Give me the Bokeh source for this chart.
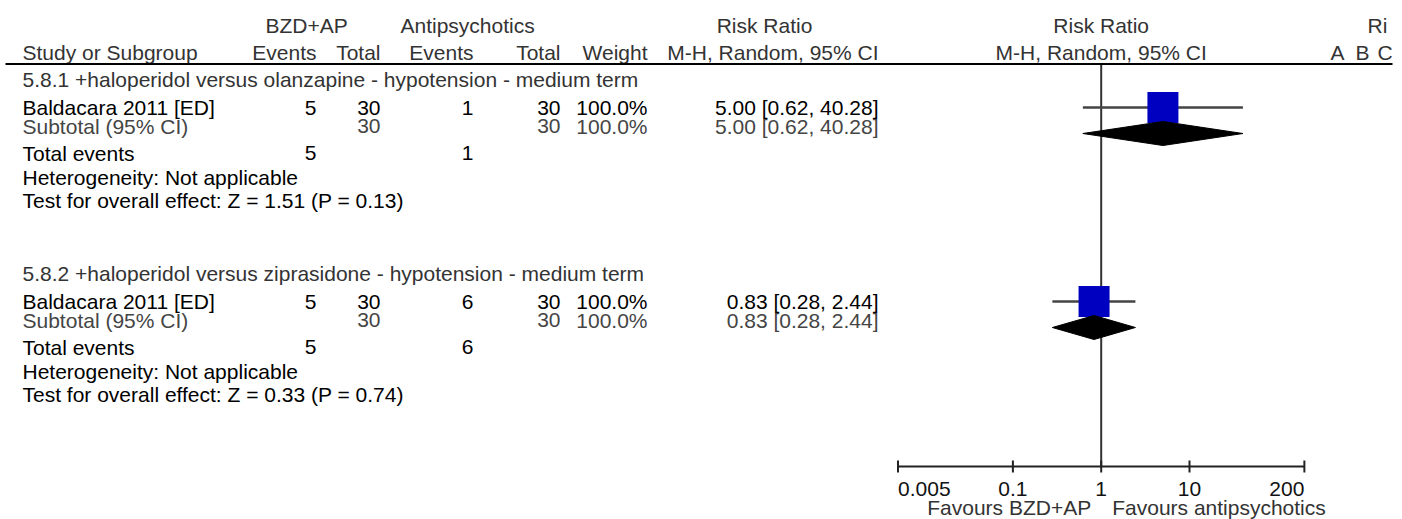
from bokeh.plotting import figure
from bokeh.models import Range1d, LogScale, ColumnDataSource
from bokeh.core.properties import value
from bokeh.embed import file_html
from bokeh.resources import INLINE

# ---------------- data ----------------
subgroup_titles = [
    "5.8.1 +haloperidol versus olanzapine - hypotension - medium term",
    "5.8.2 +haloperidol versus ziprasidone - hypotension - medium term",
]
study_names = ["Baldacara 2011 [ED]", "Baldacara 2011 [ED]"]
bzd_events = [5, 5]
bzd_total = [30, 30]
ap_events = [1, 6]
ap_total = [30, 30]
weights = [100.0, 100.0]
rr = [5.00, 0.83]
ci_lower = [0.62, 0.28]
ci_upper = [40.28, 2.44]
sub_rr = [5.00, 0.83]
sub_lower = [0.62, 0.28]
sub_upper = [40.28, 2.44]
sub_bzd_total = [30, 30]
sub_ap_total = [30, 30]
sub_weights = [100.0, 100.0]
total_bzd_events = [5, 5]
total_ap_events = [1, 6]
heterogeneity = ["Not applicable", "Not applicable"]
z_values = [1.51, 0.33]
p_values = [0.13, 0.74]
tick_values = [0.005, 0.1, 1, 10, 200]
tick_labels = ["0.005", "0.1", "1", "10", "200"]
favours_left = "Favours BZD+AP"
favours_right = "Favours antipsychotics"

# ---------------- layout ----------------
FONT = "Liberation Sans"
FS = "21px"
W, H = 1402, 519
NULL_X = 1100.7
PX_PER_DEC = 88.3

p = figure(width=W, height=H, x_range=Range1d(0, W), y_range=Range1d(H, 0),
           x_axis_location=None, y_axis_location=None, toolbar_location=None,
           output_backend="svg", min_border=0,
           outline_line_color=None, background_fill_color="white", border_fill_color="white")
p.grid.visible = False

lo = 10 ** ((0 - NULL_X) / PX_PER_DEC)
hi = 10 ** ((W - NULL_X) / PX_PER_DEC)
p.extra_x_ranges = {"log": Range1d(lo, hi)}
p.extra_x_scales = {"log": LogScale()}

HDR1, HDR2, HLINE = 25, 52, 63.5
Y_AXIS = 466
GROUP_DY = 194
ROW = dict(title=78.5, study=107, subtotal=125.5, total=152.5, het=176.5, test=200, square=107, diamond=133)

C_HEAD = "#333333"
C_SUB = "#454545"
C_BLK = "#000000"

tx, ty, tt, ta, tc = [], [], [], [], []


def add(x, y, t, a="left", c=C_BLK):
    tx.append(x); ty.append(y); tt.append(t); ta.append(a); tc.append(c)


# header rows
add(265, HDR1, "BZD+AP", "left", C_HEAD)
add(400, HDR1, "Antipsychotics", "left", C_HEAD)
add(764, HDR1, "Risk Ratio", "center", C_HEAD)
add(NULL_X, HDR1, "Risk Ratio", "center", C_HEAD)
add(1367, HDR1, "Ri", "left", C_HEAD)
add(22, HDR2, "Study or Subgroup", "left", C_HEAD)
add(316, HDR2, "Events", "right", C_HEAD)
add(380, HDR2, "Total", "right", C_HEAD)
add(473, HDR2, "Events", "right", C_HEAD)
add(560, HDR2, "Total", "right", C_HEAD)
add(647, HDR2, "Weight", "right", C_HEAD)
add(878, HDR2, "M-H, Random, 95% CI", "right", C_HEAD)
add(NULL_X, HDR2, "M-H, Random, 95% CI", "center", C_HEAD)
add(1330, HDR2, "A", "left", C_HEAD)
add(1355, HDR2, "B", "left", C_HEAD)
add(1377, HDR2, "C", "left", C_HEAD)

study_y, sub_y = [], []
for g in range(len(subgroup_titles)):
    off = g * GROUP_DY
    r = {k: v + off for k, v in ROW.items()}
    ys, yb = r["study"], r["subtotal"]
    study_y.append(r["square"])
    sub_y.append(r["diamond"])
    add(22, r["title"], subgroup_titles[g], "left", C_HEAD)
    add(22, ys, study_names[g], "left", C_BLK)
    add(316, ys, str(bzd_events[g]), "right", C_BLK)
    add(380, ys, str(bzd_total[g]), "right", C_BLK)
    add(473, ys, str(ap_events[g]), "right", C_BLK)
    add(560, ys, str(ap_total[g]), "right", C_BLK)
    add(647, ys, f"{weights[g]:.1f}%", "right", C_BLK)
    add(878, ys, f"{rr[g]:.2f} [{ci_lower[g]:.2f}, {ci_upper[g]:.2f}]", "right", C_BLK)
    add(22, yb, "Subtotal (95% CI)", "left", C_SUB)
    add(380, yb, str(sub_bzd_total[g]), "right", C_SUB)
    add(560, yb, str(sub_ap_total[g]), "right", C_SUB)
    add(647, yb, f"{sub_weights[g]:.1f}%", "right", C_SUB)
    add(878, yb, f"{sub_rr[g]:.2f} [{sub_lower[g]:.2f}, {sub_upper[g]:.2f}]", "right", C_SUB)
    add(22, r["total"], "Total events", "left", C_BLK)
    add(316, r["total"], str(total_bzd_events[g]), "right", C_BLK)
    add(473, r["total"], str(total_ap_events[g]), "right", C_BLK)
    add(22, r["het"], f"Heterogeneity: {heterogeneity[g]}", "left", C_BLK)
    add(22, r["test"], f"Test for overall effect: Z = {z_values[g]:.2f} (P = {p_values[g]:.2f})", "left", C_BLK)

src = ColumnDataSource(dict(x=tx, y=ty, text=tt, align=ta, color=tc))
p.text(x="x", y="y", text="text", text_align="align", text_color="color", source=src,
       text_font=value(FONT), text_font_size=value(FS), text_baseline="middle")

# header rule
p.segment(x0=[5], y0=[HLINE], x1=[1392], y1=[HLINE], line_color="black", line_width=2)

# null-effect line
p.segment(x0=[1], y0=[HLINE + 1], x1=[1], y1=[Y_AXIS], x_range_name="log",
          line_color="#333333", line_width=2)

# study CIs and squares
p.segment(x0=ci_lower, y0=study_y, x1=ci_upper, y1=study_y, x_range_name="log",
          line_color="#444444", line_width=2.5)
p.scatter(x=rr, y=study_y, marker="square", size=[31 * (w / 100.0) ** 0.5 for w in weights],
          x_range_name="log", fill_color="#0000C0", line_color=None)

# subtotal diamonds
HALF = 12
dx = [[l, e, u, e] for l, e, u in zip(sub_lower, sub_rr, sub_upper)]
dy = [[y, y - HALF, y, y + HALF] for y in sub_y]
p.patches(xs=dx, ys=dy, x_range_name="log", fill_color="black", line_color="black", line_width=1)

# log axis (line, ticks, labels) drawn through the log scale
p.segment(x0=[tick_values[0]], y0=[Y_AXIS], x1=[tick_values[-1]], y1=[Y_AXIS], x_range_name="log",
          line_color="#222222", line_width=2)
p.segment(x0=tick_values, y0=[Y_AXIS - 6] * len(tick_values), x1=tick_values,
          y1=[Y_AXIS + 6] * len(tick_values), x_range_name="log", line_color="#222222", line_width=2)
aligns = ["left"] + ["center"] * (len(tick_values) - 2) + ["right"]
tick_src = ColumnDataSource(dict(x=tick_values, y=[488] * len(tick_values), text=tick_labels, align=aligns))
p.text(x="x", y="y", text="text", text_align="align", source=tick_src, x_range_name="log",
       text_font=value(FONT), text_font_size=value(FS), text_baseline="middle", text_color="#111111")

p.text(x=[1], y=[507], text=[favours_left], x_offset=-10, text_align="right", x_range_name="log",
       text_font=value(FONT), text_font_size=value(FS), text_baseline="middle", text_color="#333333")
p.text(x=[1], y=[507], text=[favours_right], x_offset=11, text_align="left", x_range_name="log",
       text_font=value(FONT), text_font_size=value(FS), text_baseline="middle", text_color="#333333")

open("out.html", "w").write(file_html(p, INLINE))
